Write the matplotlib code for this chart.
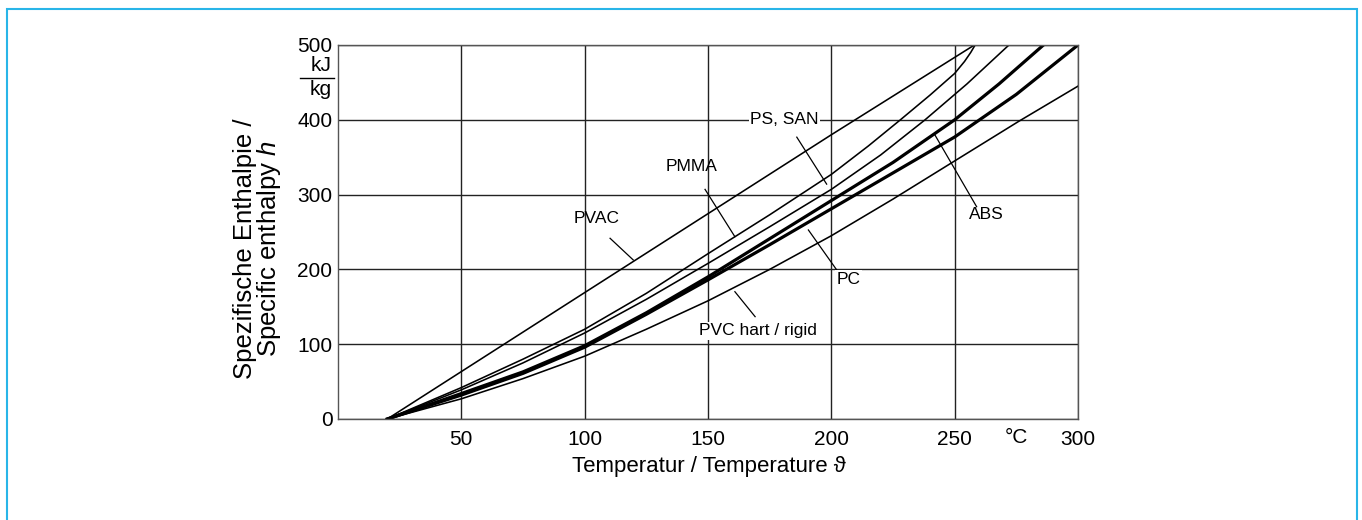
import numpy as np
import matplotlib as mpl
import matplotlib.pyplot as plt
from matplotlib.patches import Rectangle

plt.rcParams['font.family'] = ['Liberation Sans', 'DejaVu Sans']
plt.rcParams['mathtext.fontset'] = 'custom'
plt.rcParams['mathtext.it'] = 'Liberation Sans:italic'
plt.rcParams['mathtext.rm'] = 'Liberation Sans'

# specific enthalpy h (kJ/kg) over temperature (°C)
pvac_t = [20, 100, 200, 258]
pvac_h = [0, 169, 380, 500]

pmma_t = [20, 50, 75, 100, 125, 150, 175, 200, 215, 228, 240, 250, 254, 256.5, 258.3]
pmma_h = [0, 42, 80, 120, 168, 221, 273, 327, 365, 400, 433, 462, 478, 490, 500]

pssan_t = [20, 50, 75, 100, 125, 150, 175, 200, 220, 238, 255, 272]
pssan_h = [0, 39, 75, 115, 160, 208, 257, 307, 353, 400, 448, 500]

abs_t = [20, 50, 75, 100, 125, 150, 175, 200, 225, 250, 268, 286]
abs_h = [0, 34, 63, 98, 142, 190, 241, 292, 343, 400, 448, 500]

pc_t = [20, 50, 75, 100, 125, 150, 175, 200, 225, 250, 275, 300]
pc_h = [0, 32, 61, 96, 140, 186, 233, 281, 329, 377, 434, 500]

pvc_t = [20, 50, 75, 100, 125, 150, 175, 200, 225, 250, 276, 300]
pvc_h = [0, 27, 54, 84, 120, 158, 200, 245, 294, 345, 398, 445]

x_ticks = [50, 100, 150, 200, 250, 300]
y_ticks = [0, 100, 200, 300, 400, 500]

fig = plt.figure(figsize=(13.62, 5.2), dpi=100)
ax = fig.add_axes([338/1362, 1-419/520, 740/1362, 374/520])

thin = 1.15
thick = 2.3
ax.plot(pvac_t, pvac_h, 'k-', lw=thin)
ax.plot(pmma_t, pmma_h, 'k-', lw=thin)
ax.plot(pssan_t, pssan_h, 'k-', lw=thin)
ax.plot(abs_t, abs_h, 'k-', lw=thick)
ax.plot(pc_t, pc_h, 'k-', lw=thick)
ax.plot(pvc_t, pvc_h, 'k-', lw=thin)

ax.set_xlim(0, 300)
ax.set_ylim(0, 500)
ax.set_xticks(x_ticks)
ax.set_yticks(y_ticks)
ax.grid(True, color='#222222', lw=1.0)
ax.set_axisbelow(True)
ax.tick_params(length=0, labelsize=15)
ax.tick_params(axis='x', pad=8)
ax.tick_params(axis='y', pad=4)
for s in ax.spines.values():
    s.set_color('#555555')
    s.set_linewidth(1.0)

# °C unit between 250 and 300
ax.text(275, -25, '°C', ha='center', va='center', fontsize=15, clip_on=False)
# kJ/kg fraction on the y axis
ax.text(-2.5, 472, 'kJ', ha='right', va='center', fontsize=15, clip_on=False)
ax.text(-2.5, 441, 'kg', ha='right', va='center', fontsize=15, clip_on=False)
ax.plot([-15.5, -1.5], [456, 456], color='k', lw=1.0, clip_on=False)

ax.set_xlabel('Temperatur / Temperature ϑ', fontsize=16)
ax.xaxis.set_label_coords(0.5007, -0.1)
fig.text(258/1362, 1-249/520, 'Spezifische Enthalpie /\nSpecific enthalpy $h$',
         fontsize=18.5, rotation=90, ha='center', va='center',
         multialignment='center', linespacing=0.95)

lab = dict(fontsize=12.5, ha='center', va='center')
white = dict(facecolor='white', edgecolor='none', pad=1)

ax.text(104.9, 267.8, 'PVAC', **lab)
ax.text(143.4, 337, 'PMMA', **lab)
ax.text(180.9, 400.8, 'PS, SAN', bbox=white, **lab)
ax.text(263, 273.8, 'ABS', **lab)
ax.text(206.9, 186.9, 'PC', bbox=white, **lab)
ax.text(170.3, 117.9, 'PVC hart / rigid', bbox=white, **lab)

# leader lines from the labels to their curves
ax.plot([110.3, 119.7], [241.6, 212.6], 'k-', lw=0.9)
ax.plot([148.8, 160.9], [307, 243.7], 'k-', lw=0.9)
ax.plot([186, 198.1], [376.8, 314], 'k-', lw=0.9)
ax.plot([242, 258.9], [379.7, 283.8], 'k-', lw=0.9)
ax.plot([190.7, 202.2], [252.7, 199.2], 'k-', lw=0.9)
ax.plot([169.1, 160.9], [136.8, 170.2], 'k-', lw=0.9)

# light blue frame round the figure
fig.patches.append(Rectangle((7/1362, -0.1), 1350/1362, 1.1 - 9/520,
                             transform=fig.transFigure, fill=False,
                             edgecolor='#29b5e8', lw=1.5))

fig.savefig('out.png', dpi=100)
